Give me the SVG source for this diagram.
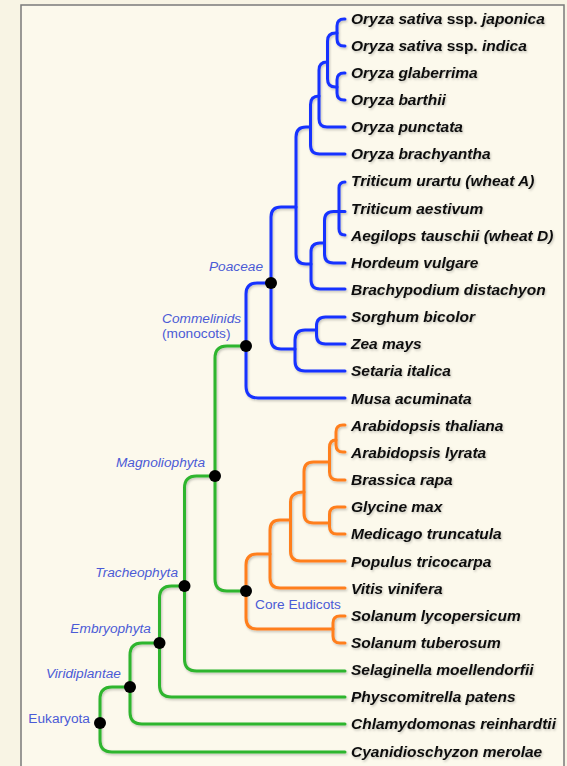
<svg xmlns="http://www.w3.org/2000/svg" width="567" height="766" viewBox="0 0 567 766">
<defs>
<style>
.b{fill:none;stroke:#1733ff;stroke-width:3;stroke-linecap:round}
.g{fill:none;stroke:#2db52d;stroke-width:3;stroke-linecap:round}
.o{fill:none;stroke:#ff7f1f;stroke-width:3;stroke-linecap:round}
.leaf{font-family:"Liberation Sans",Arial,sans-serif;font-size:15.5px;font-weight:bold;font-style:italic;fill:#111}
.up{font-style:normal}
.lab{font-family:"Liberation Sans",Arial,sans-serif;font-size:13.7px;font-style:italic;fill:#4b5bd6}
.lab.n{font-style:normal}
.dot{fill:#000}
</style>
<filter id="sh" x="-5%" y="-5%" width="110%" height="110%">
<feDropShadow dx="1" dy="1.5" stdDeviation="1" flood-color="#000" flood-opacity="0.22"/>
</filter>
</defs>
<rect x="0" y="0" width="567" height="766" fill="#f8f4e4"/>
<rect x="21" y="5" width="543" height="790" fill="#fcf9ec" stroke="#7a7a7a" stroke-width="1.5"/>

<g id="connectors" filter="url(#sh)">
<g id="blue">
<path class="b" d="M345,19 H344 Q337,19 337,26 V39 Q337,46 344,46 H345"/>
<path class="b" d="M345,73 H344 Q337,73 337,80 V93 Q337,100 344,100 H345"/>
<path class="b" d="M337,33 H335.5 Q327.5,33 327.5,41 V79 Q327.5,87 335.5,87 H337"/>
<path class="b" d="M327.5,62 H327 Q319,62 319,70 V119 Q319,127 327,127 H345"/>
<path class="b" d="M319,96 H319 Q310.5,96 310.5,104.5 V145 Q310.5,154 319.5,154 H345"/>
<path class="b" d="M345,182 Q339,182 339,188 V229 Q339,235 345,235"/>
<path class="b" d="M345,211.5 H333.5 Q324.5,211.5 324.5,220.5 V254 Q324.5,263 333.5,263 H345"/>
<path class="b" d="M324.5,243 H320 Q311,243 311,252 V280 Q311,289 320,289 H345"/>
<path class="b" d="M310.5,127 H306 Q296,127 296,137 V254 Q296,264 306,264 H311"/>
<path class="b" d="M345,317 H325.5 Q316.5,317 316.5,326 V335 Q316.5,344 325.5,344 H345"/>
<path class="b" d="M316.5,330 H305 Q295,330 295,340 V361 Q295,371 305,371 H345"/>
<path class="b" d="M296,207 H281 Q271,207 271,217 V339 Q271,349 281,349 H295"/>
<path class="b" d="M271,283 H257 Q246,283 246,294 V386 Q246,398 258,398 H345"/>
</g>
<g id="orange">
<path class="o" d="M345,425 H343 Q336,425 336,432 V445 Q336,452 343,452 H345"/>
<path class="o" d="M336,440 Q329.5,440 329.5,447.5 V472 Q329.5,480 337.5,480 H345"/>
<path class="o" d="M345,507 H337 Q329.5,507 329.5,514.5 V526.5 Q329.5,534 337,534 H345"/>
<path class="o" d="M329.5,462 H313.5 Q304,462 304,471.5 V513.5 Q304,523 313.5,523 H329.5"/>
<path class="o" d="M304,492 Q290.5,492 290.5,502 V551 Q290.5,561 300.5,561 H345"/>
<path class="o" d="M290.5,520 H280 Q270,520 270,530 V578 Q270,588 280,588 H345"/>
<path class="o" d="M345,616 H340 Q333,616 333,623 V636 Q333,643 340,643 H345"/>
<path class="o" d="M270,554 H257 Q246,554 246,565 V618 Q246,629 257,629 H333"/>
</g>
<g id="green">
<path class="g" d="M246,346 H227 Q215,346 215,358 V579 Q215,591 227,591 H246"/>
<path class="g" d="M215,476 H196.5 Q184.5,476 184.5,488 V659 Q184.5,671 196.5,671 H345"/>
<path class="g" d="M184.5,586 H171.5 Q159.5,586 159.5,598 V685 Q159.5,697 171.5,697 H345"/>
<path class="g" d="M159.5,643 H142 Q130,643 130,655 V712 Q130,724 142,724 H345"/>
<path class="g" d="M130,687 H112 Q100,687 100,699 V740 Q100,752 112,752 H345"/>
</g>
</g>

<g id="nodes-internal">
<g id="n-poaceae"><circle class="dot" cx="271" cy="283" r="6"/><text class="lab" x="263" y="271" text-anchor="end">Poaceae</text></g>
<g id="n-commelinids"><circle class="dot" cx="246" cy="346" r="6"/><text class="lab" x="162" y="322.5">Commelinids</text><text class="lab n" x="162" y="338">(monocots)</text></g>
<g id="n-magnoliophyta"><circle class="dot" cx="215" cy="476" r="6"/><text class="lab" x="205" y="467" text-anchor="end">Magnoliophyta</text></g>
<g id="n-coreeudicots"><circle class="dot" cx="246" cy="591" r="6"/><text class="lab n" x="255" y="609">Core Eudicots</text></g>
<g id="n-tracheophyta"><circle class="dot" cx="184.5" cy="586" r="6"/><text class="lab" x="178" y="576.5" text-anchor="end">Tracheophyta</text></g>
<g id="n-embryophyta"><circle class="dot" cx="159.5" cy="643" r="6"/><text class="lab" x="151" y="632.5" text-anchor="end">Embryophyta</text></g>
<g id="n-viridiplantae"><circle class="dot" cx="130" cy="687" r="6"/><text class="lab" x="121" y="677.5" text-anchor="end">Viridiplantae</text></g>
<g id="n-eukaryota"><circle class="dot" cx="100" cy="723" r="6"/><text class="lab n" x="90" y="722.5" text-anchor="end">Eukaryota</text></g>
</g>

<g id="leaves" filter="url(#sh)">
<g id="l1"><text class="leaf" x="351" y="23.5">Oryza sativa <tspan class="up">ssp.</tspan> japonica</text></g>
<g id="l2"><text class="leaf" x="351" y="50.6">Oryza sativa <tspan class="up">ssp.</tspan> indica</text></g>
<g id="l3"><text class="leaf" x="351" y="77.8">Oryza glaberrima</text></g>
<g id="l4"><text class="leaf" x="351" y="105">Oryza barthii</text></g>
<g id="l5"><text class="leaf" x="351" y="132.1">Oryza punctata</text></g>
<g id="l6"><text class="leaf" x="351" y="159.2">Oryza brachyantha</text></g>
<g id="l7"><text class="leaf" x="351" y="186.4">Triticum urartu (wheat A)</text></g>
<g id="l8"><text class="leaf" x="351" y="213.5">Triticum aestivum</text></g>
<g id="l9"><text class="leaf" x="351" y="240.7">Aegilops tauschii (wheat D)</text></g>
<g id="l10"><text class="leaf" x="351" y="267.8">Hordeum vulgare</text></g>
<g id="l11"><text class="leaf" x="351" y="295">Brachypodium distachyon</text></g>
<g id="l12"><text class="leaf" x="351" y="322.1">Sorghum bicolor</text></g>
<g id="l13"><text class="leaf" x="351" y="349.3">Zea mays</text></g>
<g id="l14"><text class="leaf" x="351" y="376.4">Setaria italica</text></g>
<g id="l15"><text class="leaf" x="351" y="403.6">Musa acuminata</text></g>
<g id="l16"><text class="leaf" x="351" y="430.7">Arabidopsis thaliana</text></g>
<g id="l17"><text class="leaf" x="351" y="457.9">Arabidopsis lyrata</text></g>
<g id="l18"><text class="leaf" x="351" y="485">Brassica rapa</text></g>
<g id="l19"><text class="leaf" x="351" y="512.2">Glycine max</text></g>
<g id="l20"><text class="leaf" x="351" y="539.3">Medicago truncatula</text></g>
<g id="l21"><text class="leaf" x="351" y="566.5">Populus tricocarpa</text></g>
<g id="l22"><text class="leaf" x="351" y="593.6">Vitis vinifera</text></g>
<g id="l23"><text class="leaf" x="351" y="620.8">Solanum lycopersicum</text></g>
<g id="l24"><text class="leaf" x="351" y="647.9">Solanum tuberosum</text></g>
<g id="l25"><text class="leaf" x="351" y="675.1">Selaginella moellendorfii</text></g>
<g id="l26"><text class="leaf" x="351" y="702.2">Physcomitrella patens</text></g>
<g id="l27"><text class="leaf" x="351" y="729.4">Chlamydomonas reinhardtii</text></g>
<g id="l28"><text class="leaf" x="351" y="756.5">Cyanidioschyzon merolae</text></g>
</g>
</svg>
